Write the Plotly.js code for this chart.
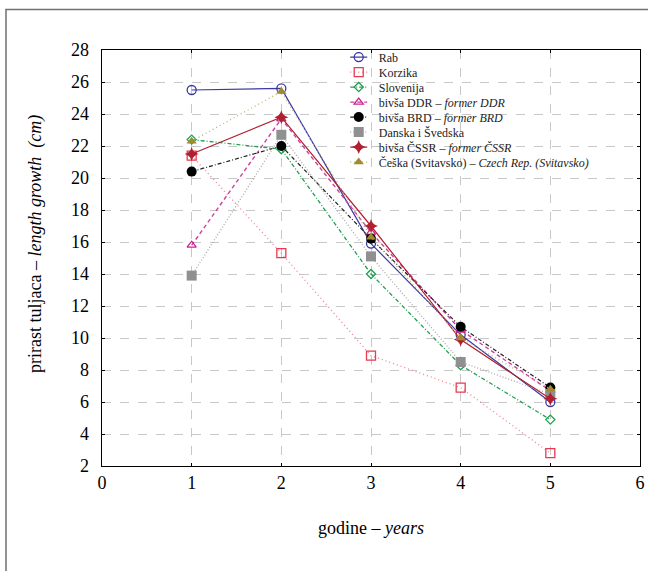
<!DOCTYPE html>
<html><head><meta charset="utf-8">
<script src="https://cdn.plot.ly/plotly-3.0.1.min.js"></script>
<style>body{margin:0;padding:0;background:#fff}#chart{width:648px;height:571px}</style>
</head><body><div id="chart"></div>
<script>
const years = [1, 2, 3, 4, 5];
const rab = [25.5, 25.6, 15.9, 10.2, 6.0];
const korzika = [21.4, 15.3, 8.9, 6.9, 2.8];
const slovenija = [22.4, 21.8, 14.0, 8.3, 4.9];
const ddr = [15.8, 23.7, 16.6, 10.5, 6.7];
const brd = [20.4, 22.0, 16.2, 10.7, 6.9];
const danska = [13.9, 22.7, 15.1, 8.5, 6.5];
const cssr = [21.5, 23.8, 17.0, 9.9, 6.2];
const ceska = [22.3, 25.4, 16.3, 10.0, 6.8];
const xTicks = [0, 1, 2, 3, 4, 5, 6];
const yTicks = [2, 4, 6, 8, 10, 12, 14, 16, 18, 20, 22, 24, 26, 28];

const traces = [
  {name: 'Rab', y: rab, line: {color: '#3a3aa0', width: 1.2, dash: 'solid'},
   marker: {symbol: 'circle-open', size: 9, color: '#3a3aa0', line: {width: 1.3}}},
  {name: 'Korzika', y: korzika, line: {color: '#f08090', width: 1.3, dash: '1px,3px'},
   marker: {symbol: 'square-open', size: 9, color: '#e83a50', line: {width: 1.3}}},
  {name: 'Slovenija', y: slovenija, line: {color: '#20a050', width: 1.3, dash: '4px,2px,1px,2px'},
   marker: {symbol: 'diamond-open', size: 7, color: '#20a050', line: {width: 1.3}}},
  {name: 'bivša DDR – <i>former DDR</i>', y: ddr, line: {color: '#d040a0', width: 1.4, dash: '4px,3px'},
   marker: {symbol: 'triangle-up-open', size: 8, color: '#d02090', line: {width: 1.3}}},
  {name: 'bivša BRD – <i>former BRD</i>', y: brd, line: {color: '#202020', width: 1.2, dash: '4px,2px,1px,2px'},
   marker: {symbol: 'circle', size: 10, color: '#000000'}},
  {name: 'Danska i Švedska', y: danska, line: {color: '#a8a8a8', width: 1.3, dash: '1px,2px'},
   marker: {symbol: 'square', size: 10, color: '#909090'}},
  {name: 'bivša ČSSR – <i>former ČSSR</i>', y: cssr, line: {color: '#b02030', width: 1.2, dash: 'solid'},
   marker: {symbol: 'star-diamond', size: 10, color: '#b02030'}},
  {name: 'Češka (Svitavsko) – <i>Czech Rep. (Svitavsko)</i>', y: ceska, line: {color: '#c0b070', width: 1.3, dash: '1px,3px'},
   marker: {symbol: 'triangle-up', size: 9, color: '#a08a30'}}
].map(t => Object.assign({type: 'scatter', mode: 'lines+markers', x: years}, t));

const font = '"Liberation Serif", "Times New Roman", serif';
const tickFont = {family: font, size: 18, color: '#000'};
const layout = {
  width: 648, height: 571,
  margin: {l: 102, r: 8, t: 50, b: 105},
  paper_bgcolor: '#fff', plot_bgcolor: '#fff',
  font: {family: font, color: '#000', size: 18},
  showlegend: true,
  legend: {x: 0.44, y: 0.995, xanchor: 'left', yanchor: 'top', bgcolor: 'rgba(0,0,0,0)',
           font: {family: font, size: 12, color: '#222'}, tracegroupgap: 0, itemwidth: 30},
  xaxis: {range: [0, 6], tickmode: 'array', tickvals: xTicks, ticktext: xTicks.map(String), showgrid: true,
          gridcolor: '#c8c8c8', griddash: 'dash', gridwidth: 1, zeroline: false,
          showline: true, linecolor: '#000', linewidth: 1.3, mirror: 'ticks',
          ticks: 'inside', ticklen: 3, tickcolor: '#000', tickfont: tickFont},
  yaxis: {range: [2, 28], tickmode: 'array', tickvals: yTicks, ticktext: yTicks.map(String), showgrid: true,
          gridcolor: '#c8c8c8', griddash: 'dash', gridwidth: 1, zeroline: false,
          showline: true, linecolor: '#000', linewidth: 1.3, mirror: 'ticks',
          ticks: 'inside', ticklen: 3, tickcolor: '#000', tickfont: tickFont,
          ticklabelstandoff: 8},
  annotations: [
    {text: 'godine – <i>years</i>', xref: 'paper', yref: 'paper', x: 0.5, y: -0.149,
     xanchor: 'center', yanchor: 'middle', showarrow: false, font: {size: 18, family: font}},
    {text: 'prirast tuljaca – <i>length growth  (cm)</i>', xref: 'paper', yref: 'paper',
     x: (35 - 102) / 538, y: (466 - 244) / 416, textangle: -90,
     xanchor: 'center', yanchor: 'middle', showarrow: false, font: {size: 18, family: font}}
  ],
  shapes: [
    {type: 'rect', xref: 'paper', yref: 'paper', x0: (6 - 102) / 538, x1: 1.05,
     y0: -0.3, y1: 1 + (50 - 9.5) / 416, line: {color: '#707070', width: 1.5}, fillcolor: 'rgba(0,0,0,0)'}
  ]
};
Plotly.newPlot('chart', traces, layout, {displayModeBar: false, staticPlot: true}).then(function (gd) {
  // tighten legend rows (15px per entry) and shorten the sample lines, as in the reference
  gd.querySelectorAll('.legend .traces').forEach(function (el, i) {
    el.setAttribute('transform', 'translate(0,' + (5 + i * 15) + ')');
    el.querySelectorAll('.legendlines path').forEach(function (p) {
      p.setAttribute('d', 'M11.5,0h17');
    });
  });
});
</script></body></html>
